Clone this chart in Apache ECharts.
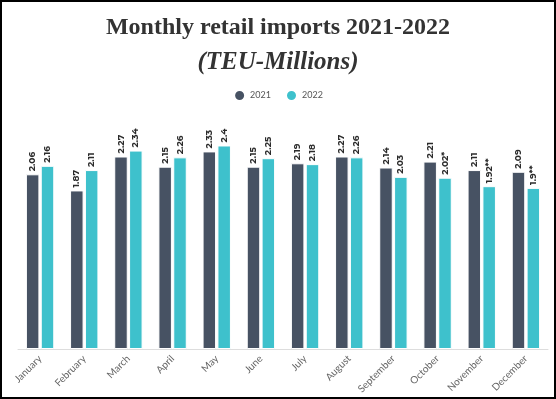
<!DOCTYPE html>
<html>
<head>
<meta charset="utf-8">
<script src="https://cdn.jsdelivr.net/npm/echarts@6/dist/echarts.min.js"></script>
<style>
html,body{margin:0;padding:0;background:#fff;}
#frame{position:absolute;left:0;top:0;width:556px;height:399px;box-sizing:border-box;border:2px solid #000;}
#chart{position:absolute;left:0;top:0;width:556px;height:399px;}
</style>
</head>
<body>
<div id="chart"></div>
<div id="frame"></div>
<script>
const months = ['January','February','March','April','May','June','July','August','September','October','November','December'];
const imports2021 = [2.06,1.87,2.27,2.15,2.33,2.15,2.19,2.27,2.14,2.21,2.11,2.09];
const imports2022 = [2.16,2.11,2.34,2.26,2.4,2.25,2.18,2.26,2.03,2.02,1.92,1.9];
const notes2022 = ['','','','','','','','','','*','**','**'];

const chart = echarts.init(document.getElementById('chart'));
const labelBase = {
  show: true, position: 'top', rotate: 90, align: 'left', verticalAlign: 'middle',
  distance: 3, fontFamily: 'Montserrat, Lato, sans-serif', fontWeight: 'bold', fontSize: 9, color: '#2b2b2b'
};
chart.setOption({
  animation: false,
  title: [
    {text: 'Monthly retail imports 2021-2022', left: 'center', top: 11,
     textStyle: {fontFamily: 'Liberation Serif', fontWeight: 'bold', fontSize: 24, color: '#333'}},
    {text: '(TEU-Millions)', left: 'center', top: 45,
     textStyle: {fontFamily: 'Liberation Serif', fontStyle: 'italic', fontWeight: 'bold', fontSize: 25, color: '#333'}}
  ],
  legend: {
    top: 84, left: 'center', icon: 'circle', itemWidth: 11, itemHeight: 11, itemGap: 14,
    textStyle: {fontFamily: 'Lato, sans-serif', fontSize: 9, color: '#555'}
  },
  grid: {left: 18, right: 8, top: 137, bottom: 50},
  xAxis: {
    type: 'category', data: months,
    axisLine: {lineStyle: {color: '#ddd'}},
    axisTick: {show: false},
    axisLabel: {rotate: 45, fontFamily: 'Lato, sans-serif', fontSize: 10, color: '#666', margin: 8, interval: 0}
  },
  yAxis: {type: 'value', min: 0, max: 2.5, show: false, splitLine: {show: false}},
  series: [
    {name: '2021', type: 'bar', data: imports2021, barWidth: 13.5, barGap: '10%',
     itemStyle: {color: '#475263', borderColor: '#fff', borderWidth: 1},
     label: labelBase},
    {name: '2022', type: 'bar', data: imports2022, barWidth: 13.5,
     itemStyle: {color: '#3ec1cc', borderColor: '#fff', borderWidth: 1},
     label: Object.assign({}, labelBase, {
       formatter: p => p.value + notes2022[p.dataIndex]
     })}
  ]
});
</script>
</body>
</html>
